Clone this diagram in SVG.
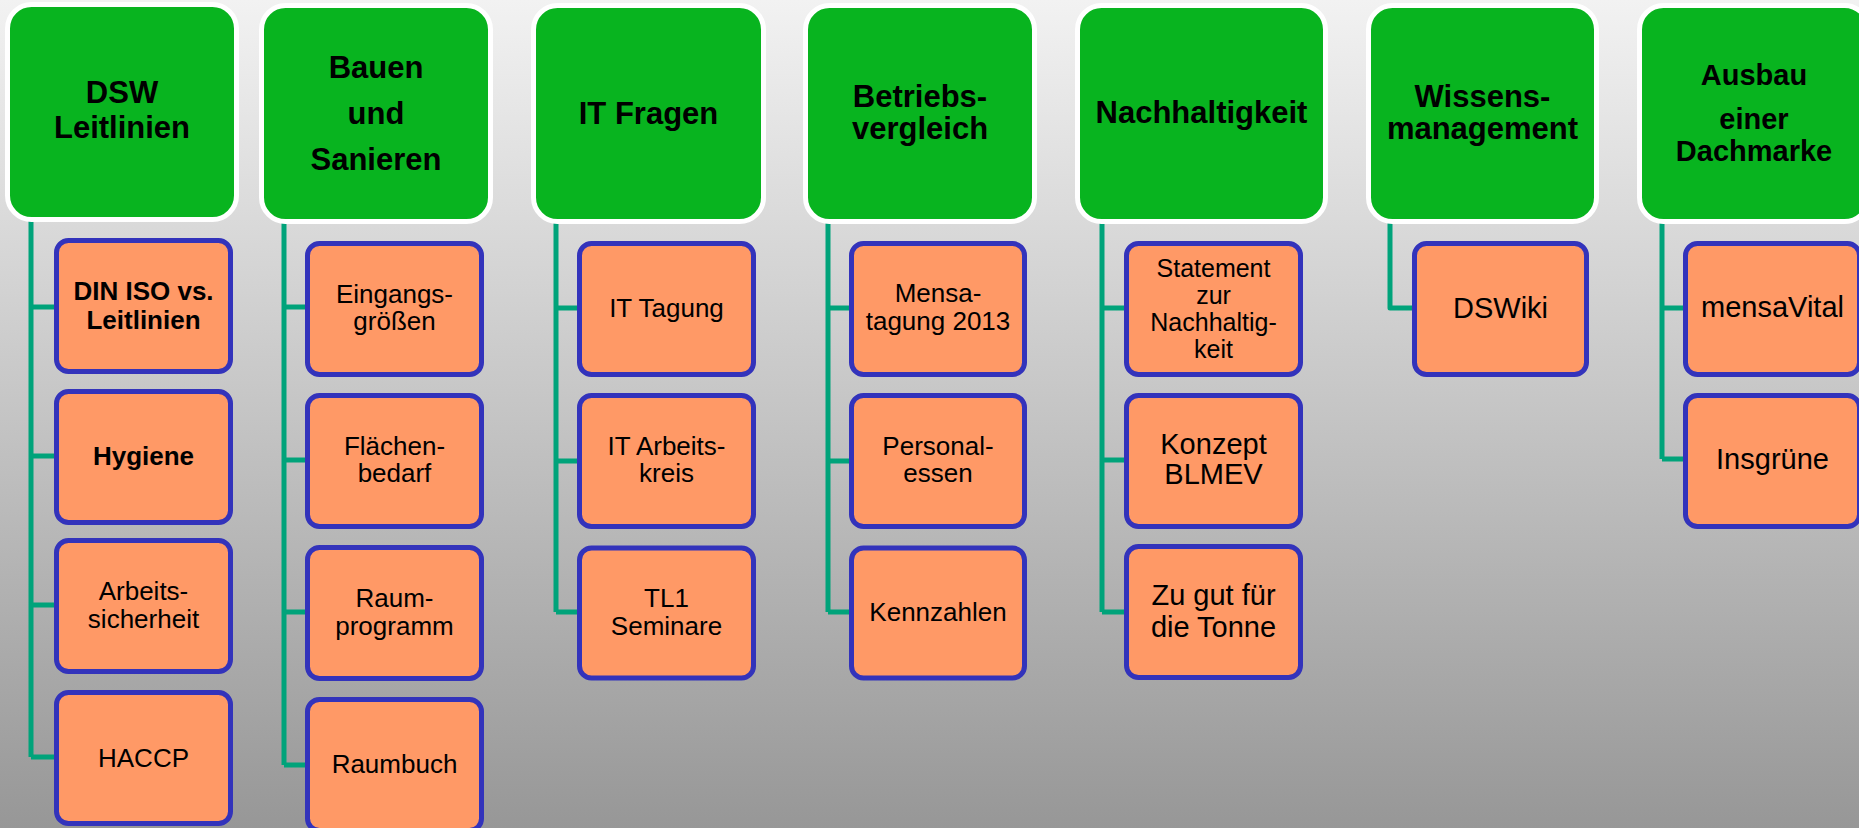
<svg xmlns="http://www.w3.org/2000/svg" width="1859" height="828" viewBox="0 0 1859 828">
<defs>
<linearGradient id="bg" x1="0" y1="0" x2="0" y2="1">
<stop offset="0" stop-color="#f2f2f2"/>
<stop offset="1" stop-color="#979797"/>
</linearGradient>
</defs>
<style>
.hd{fill:#08b41f;stroke:#ffffff;stroke-width:5}
.bx{fill:#ff9966;stroke:#3333bb;stroke-width:5}
.ht{font-family:"Liberation Sans",Arial,sans-serif;font-weight:bold;font-size:31px;fill:#000;text-anchor:middle}
.t{font-family:"Liberation Sans",Arial,sans-serif;font-size:26px;fill:#000;text-anchor:middle}
.tb{font-weight:bold}
.tl{font-size:29px}
.ts{font-size:25px}
.cn{fill:none;stroke:#00a37a;stroke-width:5;stroke-linejoin:round}
</style>
<rect x="0" y="0" width="1859" height="828" fill="url(#bg)"/>
<g id="connectors">
<path class="cn" d="M31 220 V757 M31 307 H56 M31 456 H56 M31 605 H56 M31 757 H56"/>
<path class="cn" d="M284 222 V765 M284 307 H307 M284 460 H307 M284 612 H307 M284 765 H307"/>
<path class="cn" d="M556 222 V612 M556 308 H579 M556 461 H579 M556 612 H579"/>
<path class="cn" d="M828 222 V612 M828 308 H851 M828 461 H851 M828 612 H851"/>
<path class="cn" d="M1102 222 V612 M1102 308 H1126 M1102 460 H1126 M1102 612 H1126"/>
<path class="cn" d="M1390 222 V308 H1414"/>
<path class="cn" d="M1662 222 V459 M1662 308 H1685 M1662 459 H1685"/>
</g>
<g id="h-dsw"><rect class="hd" x="7.5" y="4.5" width="229" height="215" rx="24"/>
<text class="ht" x="122" y="103">DSW</text><text class="ht" x="122" y="138">Leitlinien</text></g>
<g id="h-bauen"><rect class="hd" x="261.5" y="5.5" width="229" height="216" rx="24"/>
<text class="ht" x="376" y="78">Bauen</text><text class="ht" x="376" y="124">und</text><text class="ht" x="376" y="170">Sanieren</text></g>
<g id="h-it"><rect class="hd" x="533.5" y="5.5" width="230" height="216" rx="24"/>
<text class="ht" x="648.5" y="124">IT Fragen</text></g>
<g id="h-betrieb"><rect class="hd" x="805.5" y="5.5" width="229" height="216" rx="24"/>
<text class="ht" x="920" y="107">Betriebs-</text><text class="ht" x="920" y="139">vergleich</text></g>
<g id="h-nachhalt"><rect class="hd" x="1077.5" y="5.5" width="248" height="216" rx="24"/>
<text class="ht" x="1201.5" y="123">Nachhaltigkeit</text></g>
<g id="h-wissen"><rect class="hd" x="1368.5" y="5.5" width="228" height="216" rx="24"/>
<text class="ht" x="1482.5" y="107">Wissens-</text><text class="ht" x="1482.5" y="139">management</text></g>
<g id="h-ausbau"><rect class="hd" x="1639.5" y="5.5" width="229" height="216" rx="24"/>
<text class="ht" x="1754" y="85" style="font-size:29px">Ausbau</text><text class="ht" x="1754" y="129" style="font-size:29px">einer</text><text class="ht" x="1754" y="161" style="font-size:29px">Dachmarke</text></g>

<g id="n-din"><rect class="bx" x="56.5" y="240.5" width="174" height="131" rx="12"/>
<text class="t tb" x="143.5" y="300">DIN ISO vs.</text><text class="t tb" x="143.5" y="329">Leitlinien</text></g>
<g id="n-hygiene"><rect class="bx" x="56.5" y="391.5" width="174" height="131" rx="12"/>
<text class="t tb" x="143.5" y="465">Hygiene</text></g>
<g id="n-arbeit"><rect class="bx" x="56.5" y="540.5" width="174" height="131" rx="12"/>
<text class="t" x="143.5" y="600">Arbeits-</text><text class="t" x="143.5" y="628">sicherheit</text></g>
<g id="n-haccp"><rect class="bx" x="56.5" y="692.5" width="174" height="131" rx="12"/>
<text class="t" x="143.5" y="767">HACCP</text></g>

<g id="n-eingang"><rect class="bx" x="307.5" y="243.5" width="174" height="131" rx="12"/>
<text class="t" x="394.5" y="303">Eingangs-</text><text class="t" x="394.5" y="330">größen</text></g>
<g id="n-flaeche"><rect class="bx" x="307.5" y="395.5" width="174" height="131" rx="12"/>
<text class="t" x="394.5" y="455">Flächen-</text><text class="t" x="394.5" y="482">bedarf</text></g>
<g id="n-raumprog"><rect class="bx" x="307.5" y="547.5" width="174" height="131" rx="12"/>
<text class="t" x="394.5" y="607">Raum-</text><text class="t" x="394.5" y="635">programm</text></g>
<g id="n-raumbuch"><rect class="bx" x="307.5" y="699.5" width="174" height="131" rx="12"/>
<text class="t" x="394.5" y="773">Raumbuch</text></g>

<g id="n-ittagung"><rect class="bx" x="579.5" y="243.5" width="174" height="131" rx="12"/>
<text class="t" x="666.5" y="317">IT Tagung</text></g>
<g id="n-itak"><rect class="bx" x="579.5" y="395.5" width="174" height="131" rx="12"/>
<text class="t" x="666.5" y="455">IT Arbeits-</text><text class="t" x="666.5" y="482">kreis</text></g>
<g id="n-tl1"><rect class="bx" x="579.5" y="548" width="174" height="130" rx="12"/>
<text class="t" x="666.5" y="607">TL1</text><text class="t" x="666.5" y="635">Seminare</text></g>

<g id="n-mensa"><rect class="bx" x="851.5" y="243.5" width="173" height="131" rx="12"/>
<text class="t" x="938" y="302">Mensa-</text><text class="t" x="938" y="330">tagung 2013</text></g>
<g id="n-personal"><rect class="bx" x="851.5" y="395.5" width="173" height="131" rx="12"/>
<text class="t" x="938" y="455">Personal-</text><text class="t" x="938" y="482">essen</text></g>
<g id="n-kenn"><rect class="bx" x="851.5" y="548" width="173" height="130" rx="12"/>
<text class="t" x="938" y="621">Kennzahlen</text></g>

<g id="n-statement"><rect class="bx" x="1126.5" y="243.5" width="174" height="131" rx="12"/>
<text class="t ts" x="1213.5" y="277">Statement</text><text class="t ts" x="1213.5" y="304">zur</text><text class="t ts" x="1213.5" y="331">Nachhaltig-</text><text class="t ts" x="1213.5" y="358">keit</text></g>
<g id="n-konzept"><rect class="bx" x="1126.5" y="395.5" width="174" height="131" rx="12"/>
<text class="t tl" x="1213.5" y="454">Konzept</text><text class="t tl" x="1213.5" y="484">BLMEV</text></g>
<g id="n-tonne"><rect class="bx" x="1126.5" y="546.5" width="174" height="131" rx="12"/>
<text class="t tl" x="1213.5" y="605">Zu gut für</text><text class="t tl" x="1213.5" y="637">die Tonne</text></g>

<g id="n-dswiki"><rect class="bx" x="1414.5" y="243.5" width="172" height="131" rx="12"/>
<text class="t tl" x="1500.5" y="318">DSWiki</text></g>

<g id="n-mensavital"><rect class="bx" x="1685.5" y="243.5" width="174" height="131" rx="12"/>
<text class="t tl" x="1772.5" y="317">mensaVital</text></g>
<g id="n-insgruene"><rect class="bx" x="1685.5" y="395.5" width="174" height="131" rx="12"/>
<text class="t tl" x="1772.5" y="469">Insgrüne</text></g>
</svg>
